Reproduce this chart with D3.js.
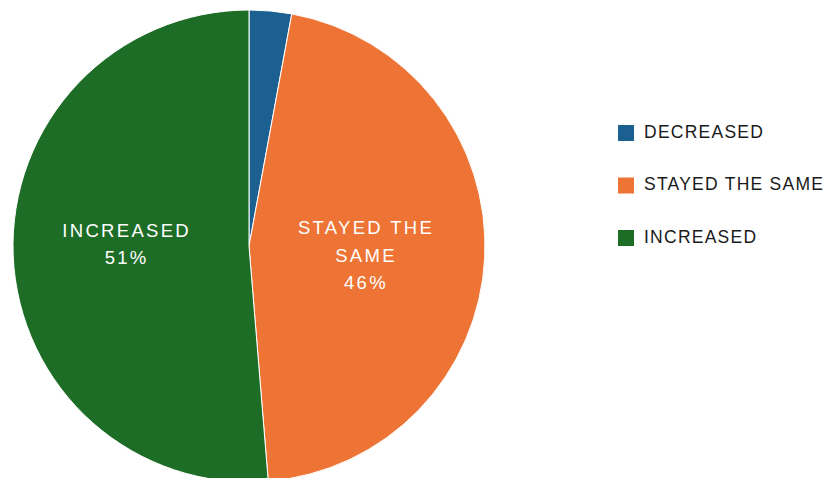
<!DOCTYPE html>
<html><head><meta charset="utf-8">
<script src="https://cdn.jsdelivr.net/npm/d3@7"></script>
<style>body{margin:0;background:#fff}svg{display:block}</style>
</head><body>
<svg id="c" width="832" height="478"></svg>
<script>
const categories = ["DECREASED", "STAYED THE SAME", "INCREASED"];
const values = [2.9, 45.8, 51.3];           // percent shares
const labelNames = [[], ["STAYED THE", "SAME"], ["INCREASED"]];
const colors = ["#1b6090", "#ed7434", "#1e6d27"];

const svg = d3.select("#c");
const cx = 249, cy = 246, R = 236;
const color = d3.scaleOrdinal().domain(categories).range(colors);
const pie = d3.pie().sort(null).value(d => d.v).startAngle(0).endAngle(2 * Math.PI);
const data = pie(categories.map((c, i) => ({c, v: values[i], lines: labelNames[i].length ? labelNames[i].concat([Math.round(values[i]) + "%"]) : []})));
const arc = d3.arc().innerRadius(0).outerRadius(R);
const labelArc = d3.arc().innerRadius(0).outerRadius(240);
const labelShift = [[0, 0], [-4, 3], [-3.6, -7]];

const g = svg.append("g").attr("transform", `translate(${cx},${cy})`);
g.selectAll("path").data(data).join("path")
  .attr("d", arc).attr("fill", d => color(d.data.c))
  .attr("stroke", "#fff").attr("stroke-width", 1);

const lh = 27.5;
data.forEach((d, k) => {
  if (!d.data.lines.length) return;
  const [x0, y0] = labelArc.centroid(d);
  const x = x0 + labelShift[k][0], y = y0 + labelShift[k][1];
  const n = d.data.lines.length;
  const t = g.append("text").attr("text-anchor", "middle")
    .attr("fill", "#fff").attr("font-family", "'Liberation Sans', Arial, sans-serif")
    .attr("font-size", 18.5).attr("letter-spacing", 2.3);
  d.data.lines.forEach((s, i) => {
    t.append("tspan").attr("x", x + 1.15)
      .attr("y", y + (i - (n - 1) / 2) * lh + 6.5).text(s);
  });
});

const lg = svg.append("g").attr("transform", "translate(618,125)");
const items = lg.selectAll("g").data(categories).join("g")
  .attr("transform", (d, i) => `translate(0,${i * 52.5})`);
items.append("rect").attr("width", 16).attr("height", 16).attr("fill", d => color(d));
items.append("text").attr("x", 26).attr("y", 12.8)
  .attr("font-family", "'Liberation Sans', Arial, sans-serif")
  .attr("font-size", 17.5).attr("letter-spacing", 1.25).attr("fill", "#1a1a1a")
  .text(d => d);
</script>
</body></html>
